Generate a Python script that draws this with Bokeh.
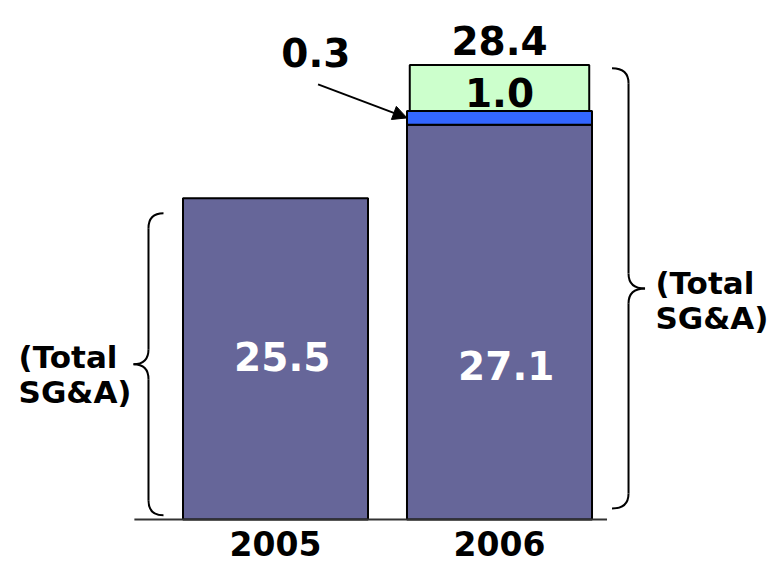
from bokeh.plotting import figure
from bokeh.models import Range1d, Arrow, NormalHead
from bokeh.core.properties import value
from bokeh.embed import file_html
from bokeh.resources import INLINE

# SG&A build-up by year (in $ millions)
years = ["2005", "2006"]
base_sga = [25.5, 27.1]
increase_a = [0.0, 0.3]
increase_b = [0.0, 1.0]
totals = [25.5, 28.4]
brace_label = ["(Total", "SG&A)"]

FONT = value("DejaVu Sans")
W, H = 772, 564
FLOOR = 18.5          # value sitting on the baseline
PX_PER_UNIT = 45.9    # vertical scale
PX_PER_CAT = 224.0    # horizontal distance between bar centres
X0_PX = 275.0         # pixel position of the first category
BASE_PX = 519.0       # pixel position of the baseline

xs = list(range(len(years)))

p = figure(width=W, height=H, output_backend="svg", toolbar_location=None,
           x_axis_type=None, y_axis_type=None, min_border=0,
           x_range=Range1d(-X0_PX / PX_PER_CAT, (W - X0_PX) / PX_PER_CAT),
           y_range=Range1d(FLOOR - (H - BASE_PX) / PX_PER_UNIT,
                           FLOOR + BASE_PX / PX_PER_UNIT))
p.grid.visible = False
p.outline_line_color = None
p.background_fill_color = "white"
p.border_fill_color = "white"

bar_w = 0.826

# base SG&A bars
p.vbar(x=xs, bottom=FLOOR, top=base_sga, width=bar_w,
       fill_color="#666699", line_color="black", line_width=2)

# stacked increments (only where non-zero)
a_idx = [i for i, v in enumerate(increase_a) if v > 0]
a_bot = [base_sga[i] for i in a_idx]
a_top = [base_sga[i] + increase_a[i] for i in a_idx]
p.vbar(x=a_idx, bottom=a_bot, top=a_top, width=bar_w,
       fill_color="#3366FF", line_color="black", line_width=2)

b_idx = [i for i, v in enumerate(increase_b) if v > 0]
b_bot = [base_sga[i] + increase_a[i] for i in b_idx]
b_top = [base_sga[i] + increase_a[i] + increase_b[i] for i in b_idx]
p.vbar(x=b_idx, bottom=b_bot, top=b_top, width=bar_w * 0.97,
       fill_color="#CCFFCC", line_color="black", line_width=2)

# baseline
p.segment(x0=[-0.63], y0=[FLOOR], x1=[1.48], y1=[FLOOR],
          line_color="#333333", line_width=2)

BIG = "39px"

# values inside the base bars
p.text(x=[x + 0.03 for x in xs], y=[22.05, 21.85],
       text=[f"{v:.1f}" for v in base_sga],
       text_color="white", text_font=FONT, text_font_style="bold",
       text_font_size=BIG, text_align="center", text_baseline="middle")

# increment label inside green segment
p.text(x=b_idx, y=[(b + t) / 2 - 0.1 for b, t in zip(b_bot, b_top)],
       text=[f"{increase_b[i]:.1f}" for i in b_idx],
       text_color="black", text_font=FONT, text_font_style="bold",
       text_font_size=BIG, text_align="center", text_baseline="middle")

# total above the 2006 bar
p.text(x=[1.0], y=[totals[1] + 0.22], text=[f"{totals[1]:.1f}"],
       text_color="black", text_font=FONT, text_font_style="bold",
       text_font_size=BIG, text_align="center", text_baseline="bottom")

# small increment called out with an arrow
p.text(x=[0.18], y=[28.67], text=[f"{increase_a[1]:.1f}"],
       text_color="black", text_font=FONT, text_font_style="bold",
       text_font_size=BIG, text_align="center", text_baseline="middle")
p.add_layout(Arrow(x_start=0.19, y_start=27.98,
                   x_end=1 - bar_w / 2, y_end=(a_bot[0] + a_top[0]) / 2,
                   line_color="black", line_width=2,
                   end=NormalHead(size=14, fill_color="black", line_color="black")))

# year labels
p.text(x=xs, y=[FLOOR - 0.52] * 2, text=years,
       text_color="black", text_font=FONT, text_font_style="bold",
       text_font_size="33px", text_align="center", text_baseline="middle")


def brace(x_spine, y0, y1, direction, dx, dy):
    """Curly brace along the y span [y0, y1]; direction -1 points left, +1 right."""
    x_end = x_spine - direction * dx
    x_tip = x_spine + direction * dx
    ym = (y0 + y1) / 2
    # straight parts
    p.segment(x0=[x_spine, x_spine], y0=[y1 - dy, ym - dy],
              x1=[x_spine, x_spine], y1=[ym + dy, y0 + dy],
              line_color="black", line_width=2)
    # curls
    p.quadratic(x0=[x_end, x_spine, x_tip, x_spine],
                y0=[y1, ym + dy, ym, y0 + dy],
                x1=[x_spine, x_tip, x_spine, x_end],
                y1=[y1 - dy, ym, ym - dy, y0],
                cx=[x_spine, x_spine, x_spine, x_spine],
                cy=[y1, ym, ym, y0],
                line_color="black", line_width=2)


dxb = 15 / PX_PER_CAT
dyb = 15 / PX_PER_UNIT
brace(-0.567, FLOOR + 0.09, totals[0] - 0.33, -1, dxb, dyb)
brace(1.576, FLOOR + 0.24, totals[1] - 0.07, +1, dxb * 1.1, dyb)

for xl, ys in [(-1.147, [22.03, 21.27]), (1.696, [23.66, 22.88])]:
    p.text(x=[xl, xl], y=ys, text=brace_label,
           text_color="black", text_font=FONT, text_font_style="bold",
           text_font_size="31px", text_align="left", text_baseline="middle")

open("out.html", "w").write(file_html(p, INLINE))
